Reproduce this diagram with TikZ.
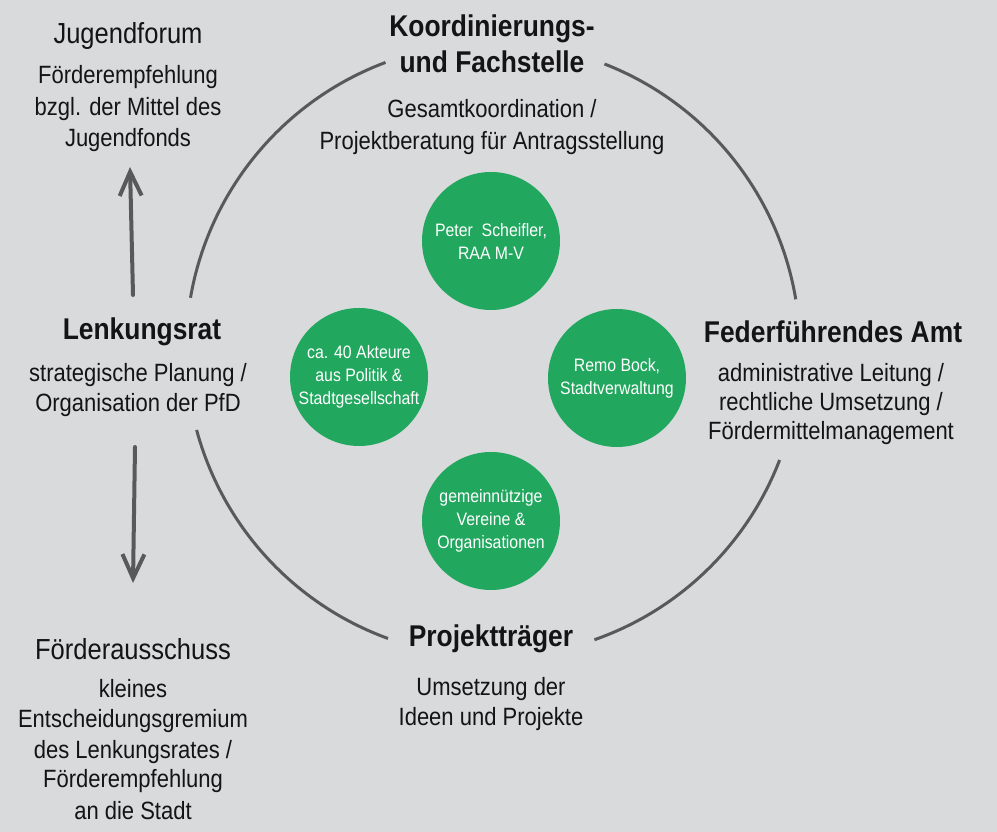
\documentclass[tikz,border=0pt]{standalone}
\usepackage{fontspec}
\setmainfont{Liberation Sans}[FakeStretch=0.88]
\usetikzlibrary{arrows.meta}
\definecolor{bg}{HTML}{D9DADC}
\definecolor{grn}{HTML}{22A75F}
\definecolor{arcc}{HTML}{58595B}
\definecolor{txt}{HTML}{141414}
\begin{document}
\begin{tikzpicture}[x=1pt,y=1pt,
  head/.style={font=\fontsize{29}{34}\selectfont, text=txt, anchor=base, inner sep=0pt},
  bhead/.style={font=\bfseries\fontsize{30}{36}\selectfont, text=txt, anchor=base, inner sep=0pt},
  body/.style={font=\fontsize{25}{31}\selectfont, text=txt, anchor=base, inner sep=0pt},
  gcircle/.style={circle, fill=grn, minimum size=138pt, inner sep=0pt, text=white, align=center, font=\fontsize{18}{23}\selectfont},
  arcline/.style={draw=arcc, line width=3pt},
  arr/.style={draw=arcc, line width=4pt, line cap=round, line join=round, -{Straight Barb[length=24pt,width=22pt]}}
]
\fill[bg] (0,0) rectangle (997,832);
\useasboundingbox (0,0) rectangle (997,832);

% big circle arcs
\coordinate (C) at (493,482);
\draw[arcline] (C) ++(170.2:307) arc[start angle=170.2, end angle=110.5, radius=307];
\draw[arcline] (C) ++(68.7:307) arc[start angle=68.7, end angle=9.5, radius=307];
\draw[arcline] (C) ++(-21:307) arc[start angle=-21, end angle=-70.7, radius=307];
\draw[arcline] (C) ++(-110:307) arc[start angle=-110, end angle=-164.9, radius=307];

% green circles
\node[gcircle] (peter) at (491,591) {Peter\ \ Scheifler,\\RAA M-V};
\node[gcircle] (akteure) at (359,455) {ca. 40 Akteure\\aus Politik \&\\Stadtgesellschaft};
\node[gcircle] (remo) at (617,454) {Remo Bock,\\Stadtverwaltung};
\node[gcircle] (vereine) at (491,311) {gemeinnützige\\Vereine \&\\Organisationen};

% Jugendforum
\node[head] (jf) at (128,788) {Jugendforum};
\node[body] (jf1) at (128,748) {Förderempfehlung};
\node[body] (jf2) at (128,716.5) {bzgl. der Mittel des};
\node[body] (jf3) at (128,685) {Jugendfonds};

% Koordinierungs- und Fachstelle
\node[bhead] (kf1) at (492,795) {Koordinierungs-};
\node[bhead] (kf2) at (492,759) {und Fachstelle};
\node[body] (kfb1) at (492,714) {Gesamtkoordination /};
\node[body] (kfb2) at (492,682) {Projektberatung für Antragsstellung};

% Lenkungsrat
\node[bhead] (lr) at (142,492) {Lenkungsrat};
\node[body] (lr1) at (138,450) {strategische Planung /};
\node[body] (lr2) at (138,420) {Organisation der PfD};

% Federfuehrendes Amt
\node[bhead] (fa) at (833,489) {Federführendes Amt};
\node[body] (fa1) at (831,450) {administrative Leitung /};
\node[body] (fa2) at (831,421) {rechtliche Umsetzung /};
\node[body] (fa3) at (831,392) {Fördermittelmanagement};

% Projekttraeger
\node[bhead] (pt) at (491,185) {Projektträger};
\node[body] (pt1) at (491,136) {Umsetzung der};
\node[body] (pt2) at (491,106) {Ideen und Projekte};

% Foerderausschuss
\node[head] (fo) at (133,172) {Förderausschuss};
\node[body] (fo1) at (133,134) {kleines};
\node[body] (fo2) at (133,104) {Entscheidungsgremium};
\node[body] (fo3) at (133,73) {des Lenkungsrates /};
\node[body] (fo4) at (133,44) {Förderempfehlung};
\node[body] (fo5) at (133,12) {an die Stadt};

% arrows
\coordinate (upS) at (133,537);
\coordinate (upE) at (130,665);
\coordinate (dnS) at (135,385);
\coordinate (dnE) at (133,249);
\draw[arr] (upS) -- (upE);
\draw[arr] (dnS) -- (dnE);
\end{tikzpicture}
\end{document}
